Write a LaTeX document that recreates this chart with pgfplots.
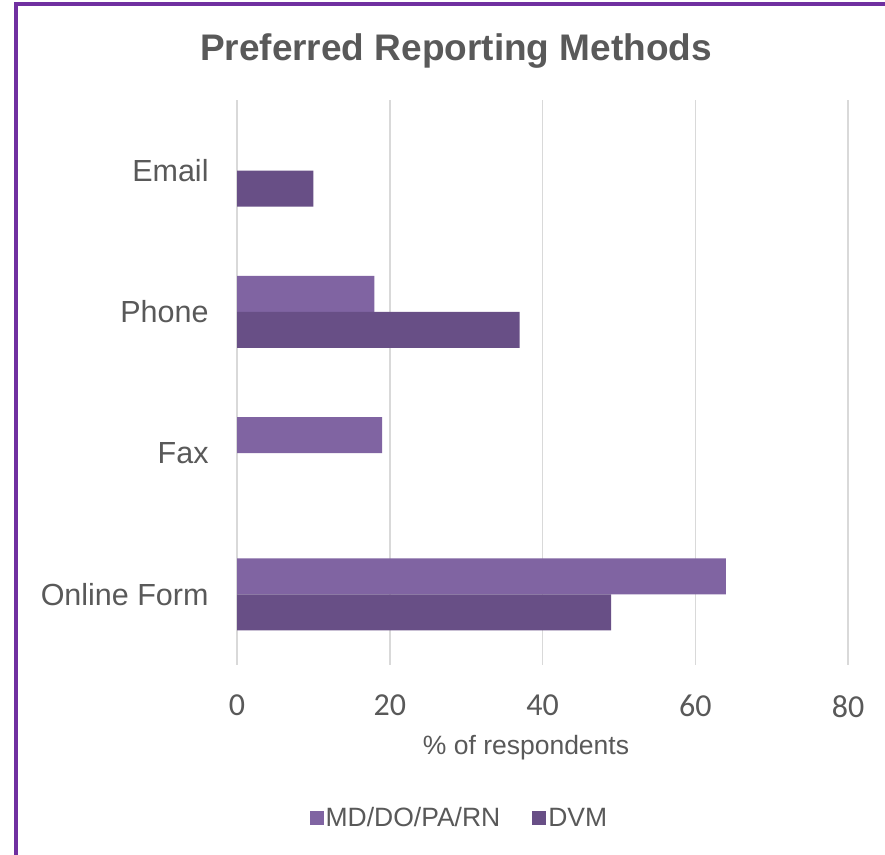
\documentclass[border=0pt]{standalone}
\usepackage{pgfplots}
\pgfplotsset{compat=1.18}
\usepackage{fontspec}
\setmainfont{Liberation Sans}
\newfontfamily\calib{Carlito}
\definecolor{mdcol}{HTML}{8064A2}
\definecolor{dvmcol}{HTML}{684F86}
\definecolor{txtgray}{HTML}{595959}
\definecolor{gridgray}{HTML}{D9D9D9}
\definecolor{border}{HTML}{7030A0}
\begin{document}
\begin{tikzpicture}[x=1bp,y=1bp]
\useasboundingbox (0,0) rectangle (885,855);
\fill[white] (0,0) rectangle (885,855);
\draw[border, line width=4bp] (16,-2) -- (16,850.5) -- (887,850.5);
\begin{axis}[
  at={(237bp,190bp)}, anchor=south west,
  scale only axis, width=611bp, height=565bp,
  xmin=0, xmax=80, ymin=-0.5, ymax=3.5,
  xtick={0,20,40,60,80},
  ytick={0,1,2,3},
  yticklabels={Online Form,Fax,Phone,Email},
  /pgf/number format/assume math mode=true,
  xticklabel style={font=\calib\fontsize{32bp}{36bp}\selectfont, text=txtgray, inner sep=0pt, yshift=-30bp},
  yticklabel style={font=\fontsize{30.5bp}{36bp}\selectfont, text=txtgray, inner sep=0pt, xshift=-24bp},
  xmajorgrids, major grid style={gridgray, line width=1.5bp},
  axis line style={draw=none},
  tick style={draw=none},
  xbar, bar width=0.255,
  legend style={at={(axis description cs:0.364,-0.271)}, anchor=center, draw=none, fill=none,
    legend columns=2, font=\fontsize{26.5bp}{30bp}\selectfont, text=txtgray,
    /tikz/every even column/.append style={column sep=30bp}},
  legend image code/.code={\fill[#1] (0bp,-7bp) rectangle (14bp,7bp);},
]
\addplot[fill=mdcol, draw=none, bar shift=0.1275] coordinates {(64,0) (19,1) (18,2)};
\addlegendentry{MD/DO/PA/RN}
\addplot[fill=dvmcol, draw=none, bar shift=-0.1275] coordinates {(49,0) (37,2) (10,3)};
\addlegendentry{DVM}
\end{axis}
\node[text=txtgray, font=\bfseries\fontsize{37bp}{42bp}\selectfont] at (456,804) {Preferred Reporting Methods};
\node[text=txtgray, font=\fontsize{26.5bp}{30bp}\selectfont] at (526,107) {\% of respondents};
\end{tikzpicture}
\end{document}
